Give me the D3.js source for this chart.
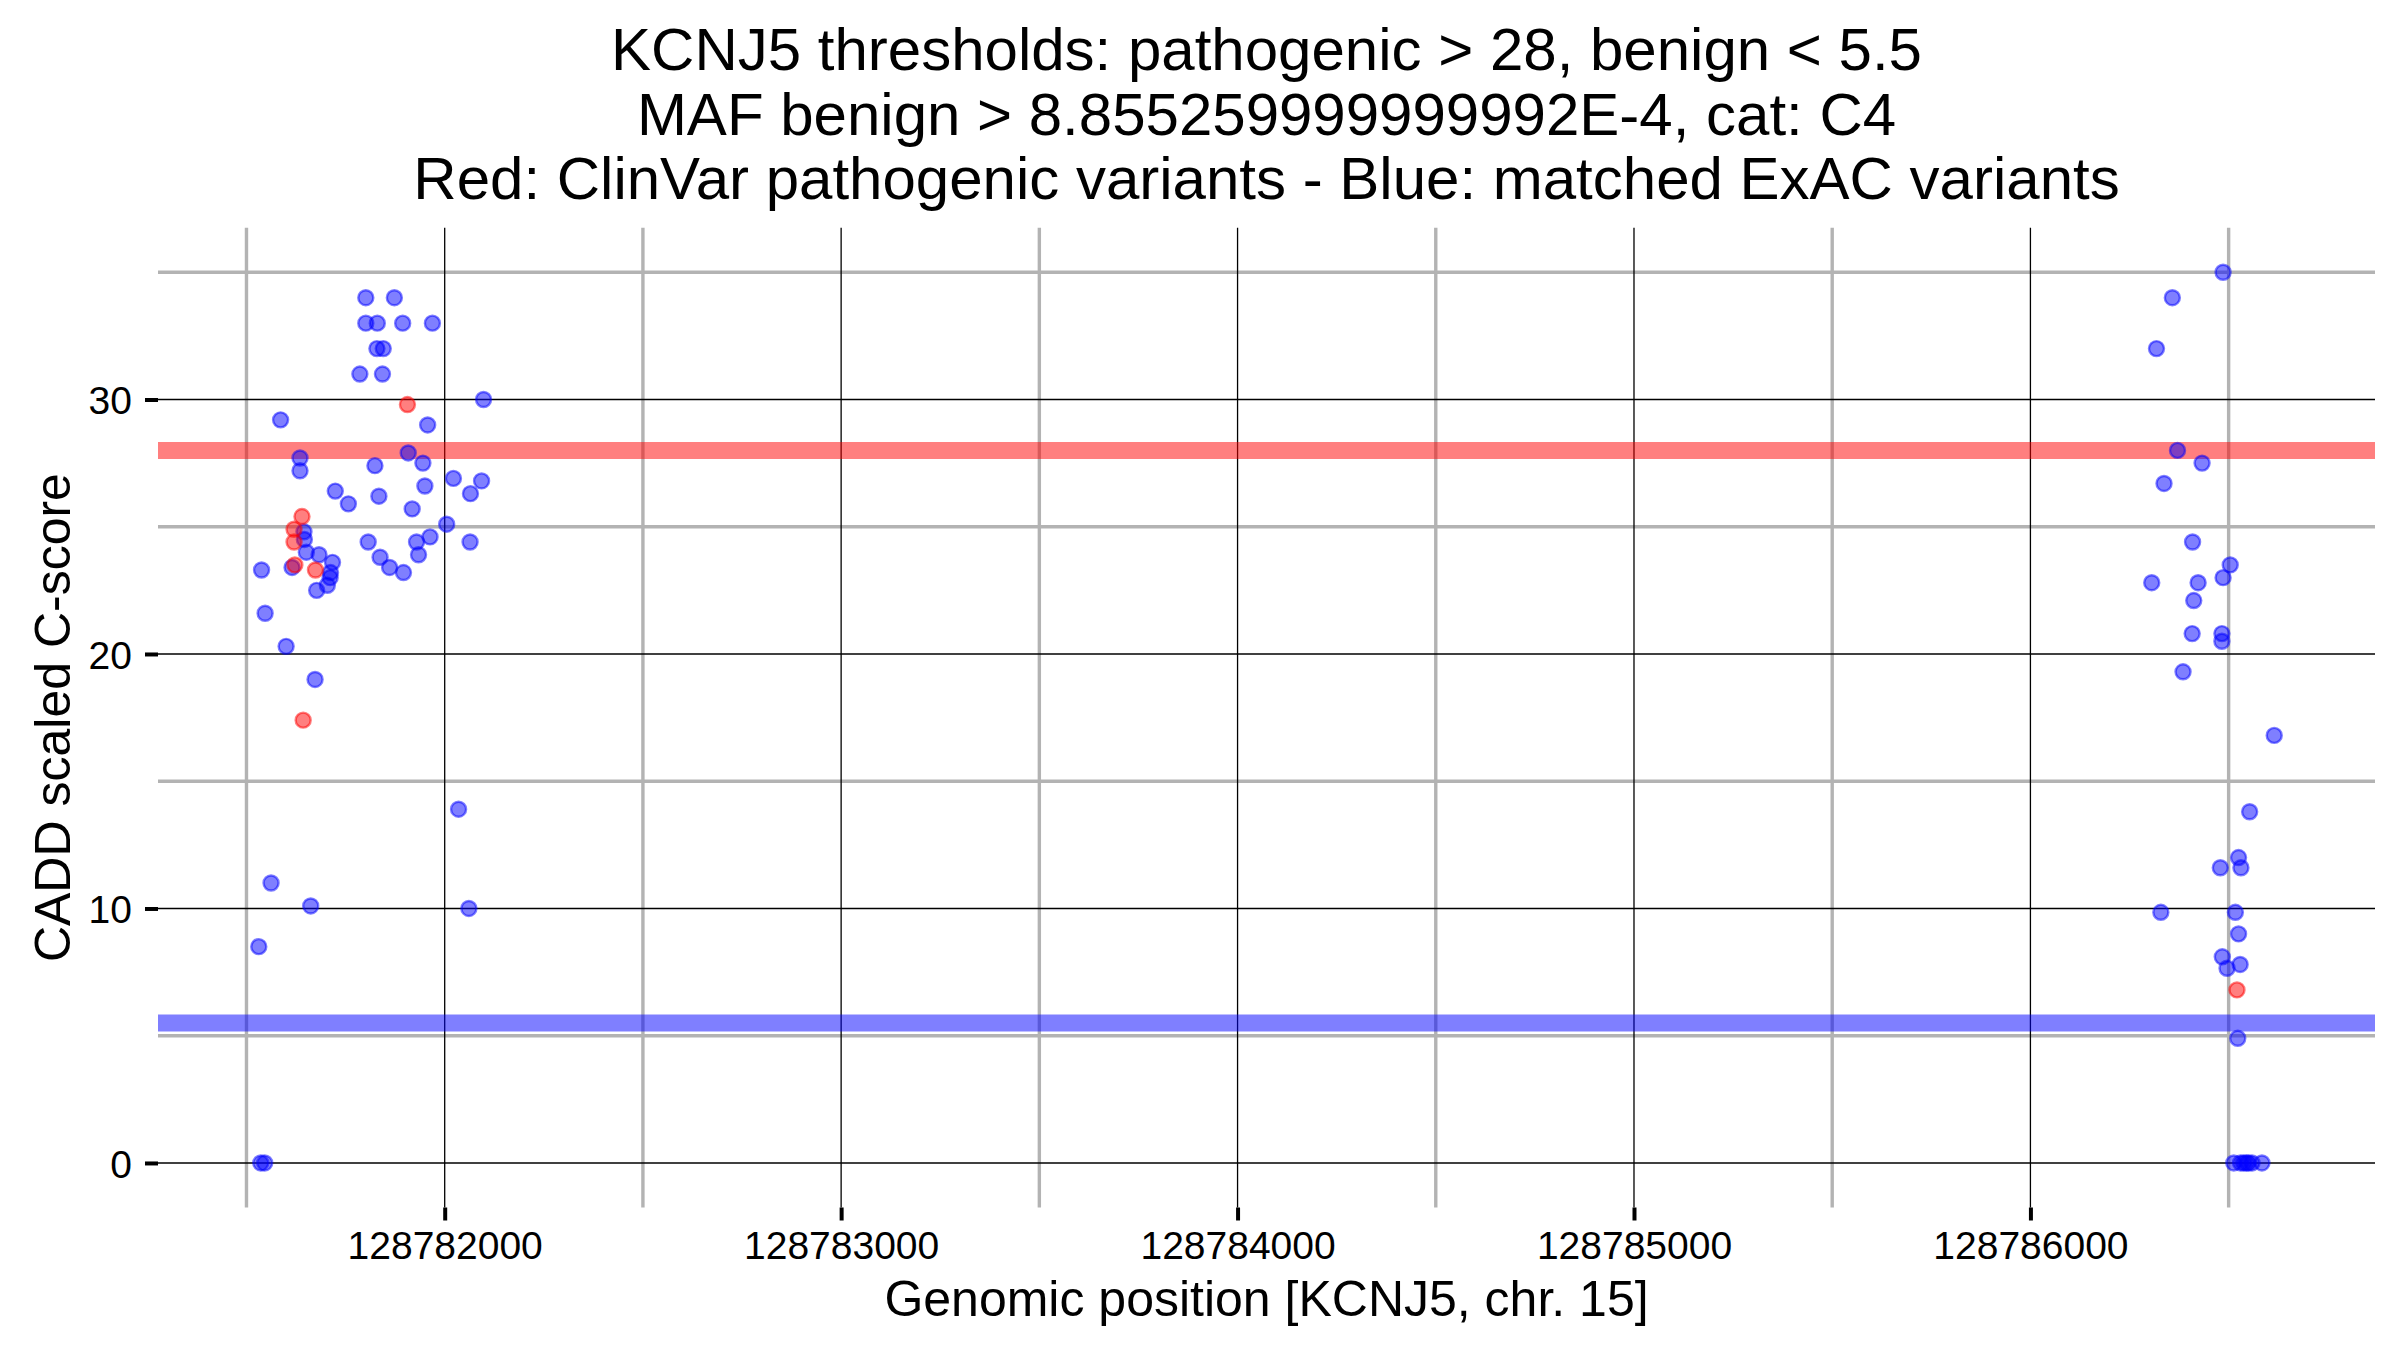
<!DOCTYPE html>
<html>
<head>
<meta charset="utf-8">
<script src="https://cdn.jsdelivr.net/npm/d3@7"></script>
<style>
  html, body { margin: 0; padding: 0; background: #ffffff; }
  svg { display: block; }
  text { font-family: "Liberation Sans", Arial, Helvetica, sans-serif; fill: #000; }
</style>
</head>
<body>
<script>
// ---------------- data ----------------
const titleLines = [
  "KCNJ5 thresholds: pathogenic > 28, benign < 5.5",
  "MAF benign > 8.855259999999992E-4, cat: C4",
  "Red: ClinVar pathogenic variants - Blue: matched ExAC variants"
];
const xLabel = "Genomic position [KCNJ5, chr. 15]";
const yLabel = "CADD scaled C-score";

const xMajorTicks = [128782000, 128783000, 128784000, 128785000, 128786000];
const xMinorTicks = [128781500, 128782500, 128783500, 128784500, 128785500, 128786500];
const yMajorTicks = [0, 10, 20, 30];
const yMinorTicks = [5, 15, 25, 35];

const pathogenicThreshold = 28;
const benignThreshold = 5.5;

// blue: matched ExAC variants
const blueX = [
  128781801, 128781873,
  128781801, 128781830, 128781894, 128781969,
  128781829, 128781845,
  128781786, 128781843,
  128782098, 128781586, 128781957,
  128781635, 128781635, 128781908, 128781945, 128781824,
  128782022, 128782093, 128781950, 128782065, 128781724, 128781834,
  128781757, 128781918, 128782005, 128781963, 128781807, 128781929,
  128782064, 128781645, 128781646, 128781651, 128781683, 128781717,
  128781837, 128781934, 128781861, 128781896, 128781538, 128781615,
  128781712, 128781711, 128781704, 128781677, 128781547, 128781600,
  128781673, 128782035, 128781562, 128781662, 128782061, 128781531,
  128781536, 128781546,
  128786486, 128786358, 128786318, 128786371, 128786433, 128786337,
  128786409, 128786504, 128786486, 128786306, 128786423, 128786412,
  128786408, 128786483, 128786483, 128786385, 128786615, 128786553,
  128786525, 128786531, 128786479, 128786329, 128786517, 128786525,
  128786484, 128786496, 128786529, 128786523,
  128786513, 128786530, 128786538, 128786545, 128786550, 128786559, 128786584
];
const blueY = [
  34.0, 34.0,
  33.0, 33.0, 33.0, 33.0,
  32.0, 32.0,
  31.0, 31.0,
  30.0, 29.2, 29.0,
  27.7, 27.2, 27.9, 27.5, 27.4,
  26.9, 26.8, 26.6, 26.3, 26.4, 26.2,
  25.9, 25.7, 25.1, 24.6, 24.4, 24.4,
  24.4, 24.8, 24.5, 24.0, 23.9, 23.6,
  23.8, 23.9, 23.4, 23.2, 23.3, 23.4,
  23.2, 23.0, 22.7, 22.5, 21.6, 20.3,
  19.0, 13.9, 11.0, 10.1, 10.0, 8.5,
  0, 0,
  35.0, 34.0, 32.0, 28.0, 27.5, 26.7,
  24.4, 23.5, 23.0, 22.8, 22.8, 22.1,
  20.8, 20.8, 20.5, 19.3, 16.8, 13.8,
  12.0, 11.6, 11.6, 9.85, 9.85, 9.0,
  8.1, 7.65, 7.8, 4.9,
  0, 0, 0, 0, 0, 0, 0
];

// red: ClinVar pathogenic variants
const redX = [128781906, 128781640, 128781620, 128781620, 128781622, 128781674, 128781643, 128786521];
const redY = [29.8, 25.4, 24.9, 24.4, 23.5, 23.3, 17.4, 6.8];

// ---------------- layout ----------------
const W = 2400, H = 1350;
const panel = { left: 158, right: 2375, top: 227.7, bottom: 1207.5 };

const blue = blueX.map((x, i) => ({ x, y: blueY[i] }));
const red = redX.map((x, i) => ({ x, y: redY[i] }));
const all = blue.concat(red);

function expand(ext, f) { const d = ext[1] - ext[0]; return [ext[0] - d * f, ext[1] + d * f]; }

const x = d3.scaleLinear()
  .domain(expand(d3.extent(all, d => d.x), 0.05))
  .range([panel.left, panel.right]);
const y = d3.scaleLinear()
  .domain(expand(d3.extent(all, d => d.y), 0.05))
  .range([panel.bottom, panel.top]);

const svg = d3.select("body").append("svg")
  .attr("width", W).attr("height", H)
  .attr("viewBox", `0 0 ${W} ${H}`);

svg.append("rect").attr("width", W).attr("height", H).attr("fill", "#ffffff");

// grid lines
const grid = svg.append("g");
grid.selectAll("line.hmin").data(yMinorTicks).join("line")
  .attr("x1", panel.left).attr("x2", panel.right)
  .attr("y1", d => y(d)).attr("y2", d => y(d))
  .attr("stroke", "#b3b3b3").attr("stroke-width", 3.4);
grid.selectAll("line.vmin").data(xMinorTicks).join("line")
  .attr("x1", d => x(d)).attr("x2", d => x(d))
  .attr("y1", panel.top).attr("y2", panel.bottom)
  .attr("stroke", "#b3b3b3").attr("stroke-width", 3.4);
grid.selectAll("line.hmaj").data(yMajorTicks).join("line")
  .attr("x1", panel.left).attr("x2", panel.right)
  .attr("y1", d => y(d)).attr("y2", d => y(d))
  .attr("stroke", "#000").attr("stroke-width", 1.6);
grid.selectAll("line.vmaj").data(xMajorTicks).join("line")
  .attr("x1", d => x(d)).attr("x2", d => x(d))
  .attr("y1", panel.top).attr("y2", panel.bottom)
  .attr("stroke", "#000").attr("stroke-width", 1.3);

// threshold bands
svg.append("line")
  .attr("x1", panel.left).attr("x2", panel.right)
  .attr("y1", y(pathogenicThreshold)).attr("y2", y(pathogenicThreshold))
  .attr("stroke", "#ff0000").attr("stroke-opacity", 0.5).attr("stroke-width", 17);
svg.append("line")
  .attr("x1", panel.left).attr("x2", panel.right)
  .attr("y1", y(benignThreshold)).attr("y2", y(benignThreshold))
  .attr("stroke", "#0000ff").attr("stroke-opacity", 0.5).attr("stroke-width", 17);

// points
function drawPoints(data, color) {
  svg.append("g").selectAll("circle").data(data).join("circle")
    .attr("cx", d => x(d.x)).attr("cy", d => y(d.y))
    .attr("r", 7.5)
    .attr("fill", color).attr("fill-opacity", 0.5)
    .attr("stroke", color).attr("stroke-opacity", 0.5).attr("stroke-width", 2.4);
}
drawPoints(blue, "#0000ff");
drawPoints(red, "#ff0000");

// axes
const yAxis = d3.axisLeft(y).tickValues(yMajorTicks).tickSize(13).tickPadding(13).tickFormat(d3.format("d"));
const gy = svg.append("g").attr("transform", `translate(${panel.left},0)`).call(yAxis);
gy.select(".domain").remove();
gy.selectAll(".tick line").attr("stroke", "#000").attr("stroke-width", 4);
gy.selectAll(".tick text").attr("font-size", 39).attr("dy", "0.36em")
  .style("font-family", '"Liberation Sans", Arial, sans-serif');

const xAxis = d3.axisBottom(x).tickValues(xMajorTicks).tickSize(13).tickPadding(10).tickFormat(d3.format("d"));
const gx = svg.append("g").attr("transform", `translate(0,${panel.bottom})`).call(xAxis);
gx.select(".domain").remove();
gx.selectAll(".tick line").attr("stroke", "#000").attr("stroke-width", 4);
gx.selectAll(".tick text").attr("font-size", 39).attr("dy", "0.72em")
  .style("font-family", '"Liberation Sans", Arial, sans-serif');

// titles
const cx = (panel.left + panel.right) / 2;
svg.append("g").selectAll("text").data(titleLines).join("text")
  .attr("x", cx).attr("y", (d, i) => 70 + i * 64.5)
  .attr("text-anchor", "middle").attr("font-size", 60)
  .text(d => d);

svg.append("text")
  .attr("x", cx).attr("y", 1316)
  .attr("text-anchor", "middle").attr("font-size", 50)
  .text(xLabel);

svg.append("text")
  .attr("transform", `translate(70,${(panel.top + panel.bottom) / 2}) rotate(-90)`)
  .attr("text-anchor", "middle").attr("font-size", 50)
  .text(yLabel);
</script>
</body>
</html>
